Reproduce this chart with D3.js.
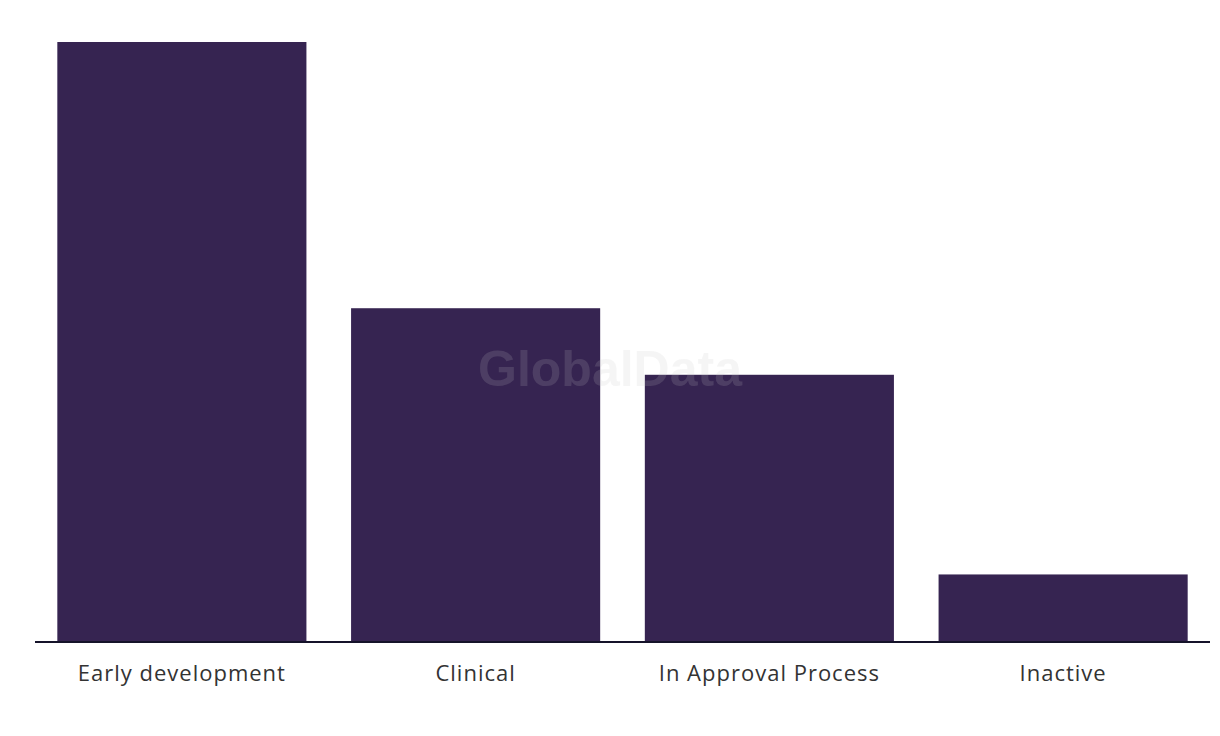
<!DOCTYPE html>
<html lang="en">
<head>
    <meta charset="utf-8" />
    <title>Pipeline by stage</title>
    <style>
        body { margin: 0; background: white; font-family: 'Open Sans', Roboto, sans-serif; }
        text.cat { fill: #333; font-size: 22px; letter-spacing: 1px; text-anchor: middle; }
        text.mark { font-family: 'Liberation Sans', Arial, sans-serif; font-weight: bold; font-size: 50px;
            fill: rgb(198,198,198); fill-opacity: 0.17; text-anchor: middle; }
    </style>
    <script src="https://d3js.org/d3.v7.min.js"></script>
</head>
<body>
    <svg id="vis" width="1220" height="736"></svg>
    <script>
        var categories = ["Early development", "Clinical", "In Approval Process", "Inactive"];
        var values = [9, 5, 4, 1];

        var width = 1220, height = 736;
        var margin = { top: 42, left: 35, right: 10, bottom: 95 };

        var svg = d3.select("#vis");

        var x = d3.scaleBand()
            .domain(categories)
            .range([margin.left, width - margin.right])
            .paddingInner(0.152)
            .paddingOuter(0.076);

        var y = d3.scaleLinear()
            .domain([0, d3.max(values)])
            .range([height - margin.bottom, margin.top]);

        svg.append("g").attr("class", "bars")
            .selectAll("rect").data(values)
            .enter().append("rect")
            .attr("x", function (d, i) { return x(categories[i]); })
            .attr("y", function (d) { return y(d); })
            .attr("width", x.bandwidth())
            .attr("height", function (d) { return y(0) - y(d); })
            .attr("fill", "#362451");

        // baseline
        svg.append("line")
            .attr("x1", margin.left).attr("x2", width - margin.right)
            .attr("y1", y(0) + 1).attr("y2", y(0) + 1)
            .attr("stroke", "#15132a").attr("stroke-width", 2);

        svg.append("g").selectAll("text.cat").data(categories)
            .enter().append("text").attr("class", "cat")
            .attr("x", function (d) { return x(d) + x.bandwidth() / 2; })
            .attr("y", y(0) + 40)
            .text(function (d) { return d; });

        svg.append("text").attr("class", "mark")
            .attr("x", 610).attr("y", 386)
            .text("GlobalData");
    </script>
</body>
</html>
